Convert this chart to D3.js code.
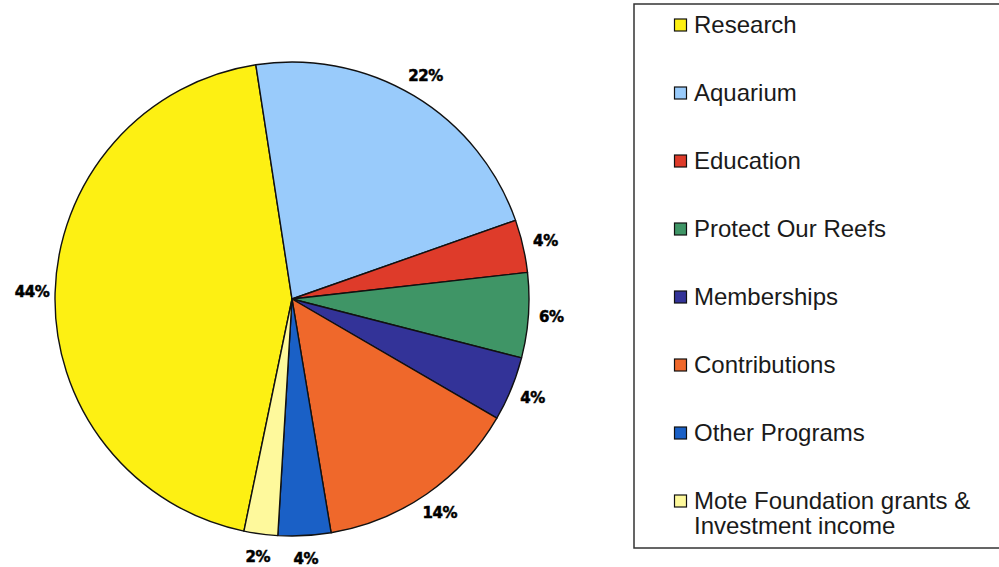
<!DOCTYPE html>
<html>
<head>
<meta charset="utf-8">
<script src="https://cdn.jsdelivr.net/npm/d3@7"></script>
<style>
  body { margin: 0; background: #fff; }
  svg { display: block; }
</style>
</head>
<body>
<div id="chart"></div>
<script>
'use strict';
// data (percent of total)
var categories = ['Research', 'Aquarium', 'Education', 'Protect Our Reefs', 'Memberships',
    'Contributions', 'Other Programs', 'Mote Foundation grants & Investment income'];
var legendLines = [['Research'], ['Aquarium'], ['Education'], ['Protect Our Reefs'], ['Memberships'],
    ['Contributions'], ['Other Programs'], ['Mote Foundation grants &', 'Investment income']];
var values = [44.4, 22.1, 3.6, 5.8, 4.4, 14.0, 3.6, 2.3];
var colors = ['#fdf013', '#99cbfb', '#de3b2a', '#3f9566', '#333398', '#ef682b', '#1a60c6', '#fef99c'];

var width = 999,
    height = 567,
    cx = 292,
    cy = 299,
    radius = 237,
    labelRadius = 260,
    firstAngle = 191.7; // degrees, clockwise from 12 o'clock

var svg = d3.select('#chart').append('svg')
    .attr('width', width)
    .attr('height', height);

var total = d3.sum(values);
var pie = d3.pie()
    .sort(null)
    .value(function (d) { return d; })
    .startAngle(firstAngle * Math.PI / 180)
    .endAngle(firstAngle * Math.PI / 180 + 2 * Math.PI);
var arcs = pie(values);

var arc = d3.arc().innerRadius(0).outerRadius(radius);
var labelArc = d3.arc().innerRadius(labelRadius).outerRadius(labelRadius);

var pieG = svg.append('g').attr('transform', 'translate(' + cx + ',' + cy + ')');

pieG.selectAll('path.slice')
    .data(arcs)
    .enter().append('path')
    .attr('class', 'slice')
    .attr('d', arc)
    .attr('fill', function (d, i) { return colors[i]; })
    .attr('stroke', '#111')
    .attr('stroke-width', 1.4)
    .attr('stroke-linejoin', 'round');

pieG.selectAll('text.pct')
    .data(arcs)
    .enter().append('text')
    .attr('class', 'pct')
    .attr('transform', function (d) { return 'translate(' + labelArc.centroid(d) + ')'; })
    .attr('text-anchor', 'middle')
    .attr('dominant-baseline', 'central')
    .style('font-family', '"DejaVu Sans", sans-serif')
    .style('font-weight', 'bold')
    .style('font-size', '15px')
    .style('letter-spacing', '-0.4px')
    .attr('fill', '#000')
    .attr('stroke', '#000')
    .attr('stroke-width', 0.5)
    .text(function (d) { return Math.round(d.value / total * 100) + '%'; });

// legend
var legendX = 634,
    legendY = 4,
    legendW = 372,
    legendH = 544;

svg.append('rect')
    .attr('x', legendX)
    .attr('y', legendY)
    .attr('width', legendW)
    .attr('height', legendH)
    .attr('fill', '#fff')
    .attr('stroke', '#333')
    .attr('stroke-width', 1.5);

var rowY = d3.scaleLinear().domain([0, categories.length - 1]).range([25, 501]);

var item = svg.selectAll('g.legend-item')
    .data(categories)
    .enter().append('g')
    .attr('class', 'legend-item')
    .attr('transform', function (d, i) { return 'translate(' + 674 + ',' + rowY(i) + ')'; });

item.append('rect')
    .attr('x', 0.5)
    .attr('y', -6)
    .attr('width', 12)
    .attr('height', 12)
    .attr('fill', function (d, i) { return colors[i]; })
    .attr('stroke', '#111')
    .attr('stroke-width', 1.2);

item.append('text')
    .attr('x', 20)
    .attr('y', 0)
    .style('font-family', '"Liberation Sans", Arial, sans-serif')
    .style('font-size', '24px')
    .attr('fill', '#1a1a1a')
    .each(function (d, i) {
        var t = d3.select(this);
        legendLines[i].forEach(function (line, j) {
            t.append('tspan')
                .attr('x', 20)
                .attr('y', j * 25)
                .attr('dy', '0.35em')
                .text(line);
        });
    });
</script>
</body>
</html>
